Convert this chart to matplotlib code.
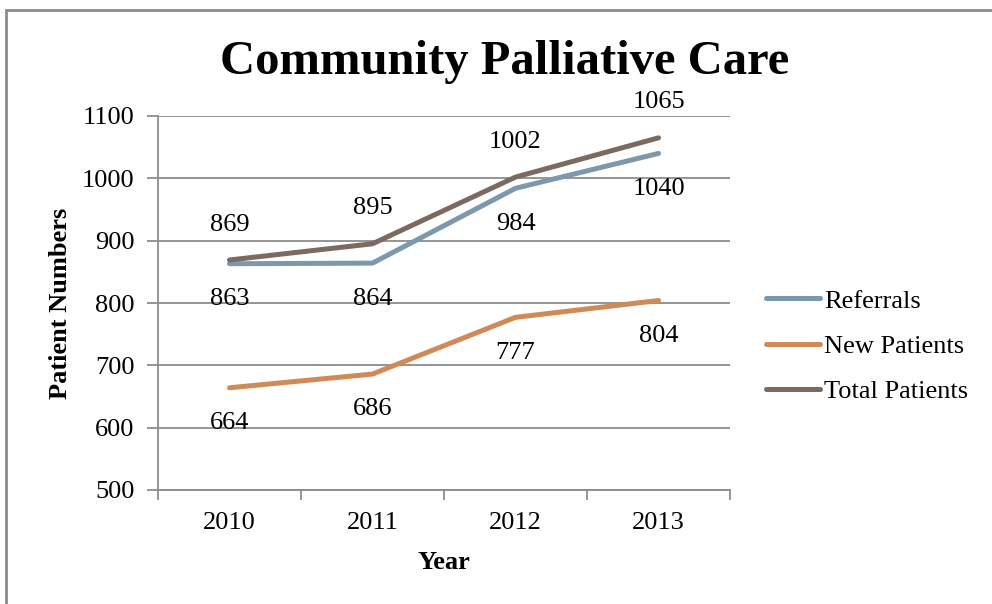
import numpy as np
import matplotlib.pyplot as plt
from matplotlib.patches import Rectangle

years = ["2010", "2011", "2012", "2013"]
referrals = [863, 864, 984, 1040]
new_patients = [664, 686, 777, 804]
total_patients = [869, 895, 1002, 1065]

series = [
    ("Referrals", referrals, "#7b98ae", -1),
    ("New Patients", new_patients, "#cf8a58", -1),
    ("Total Patients", total_patients, "#7a6a60", 1),
]

plt.rcParams['font.family'] = ['Liberation Serif', 'DejaVu Serif']
fs = 19

fig = plt.figure(figsize=(9.92, 6.04), dpi=100)
ax = fig.add_axes([158 / 992, 1 - 490 / 604, 572 / 992, 374 / 604])

# outer chart frame
fig.patches.append(Rectangle((6 / 992, -0.1), 1.2, (1 - 10 / 604) + 0.1,
                             transform=fig.transFigure, fill=False,
                             edgecolor="#8c8c8c", linewidth=2))

x = np.arange(len(years))
for name, vals, col, side in series:
    ax.plot(x, vals, color=col, linewidth=3.6, label=name,
            solid_capstyle="round", zorder=3)
    for xi, v in zip(x, vals):
        ax.annotate(str(v), (xi, v), xytext=(0, 25.5 * side),
                    textcoords="offset points", ha="center", va="center",
                    fontsize=fs, color="black")

ax.set_xlim(-0.5, 3.5)
ax.set_ylim(500, 1100)
ax.set_yticks(np.arange(500, 1101, 100))
ax.set_xticks(x)
ax.set_xticklabels(years)
ax.set_xticks(np.arange(-0.5, 3.6, 1), minor=True)
ax.tick_params(axis="x", which="major", length=0, pad=16, labelsize=fs)
ax.tick_params(axis="x", which="minor", length=7, width=1.3, color="#8c8c8c")
ax.tick_params(axis="y", length=8, width=1.3, color="#8c8c8c", pad=9, labelsize=fs)
ax.grid(axis="y", color="#8c8c8c", linewidth=1.3, zorder=0)
for s in ["top", "right"]:
    ax.spines[s].set_visible(False)
for s in ["left", "bottom"]:
    ax.spines[s].set_color("#8c8c8c")
    ax.spines[s].set_linewidth(1.3)

ax.set_xlabel("Year", fontsize=fs, fontweight="bold", labelpad=12)
ax.set_ylabel("Patient Numbers", fontsize=fs, fontweight="bold", labelpad=7)

fig.text(505 / 992, 1 - 62 / 604, "Community Palliative Care", ha="center",
         va="center", fontsize=35, fontweight="bold")

fig.legend(loc="center left", bbox_to_anchor=(766 / 992, 1 - 346 / 604),
           frameon=False, fontsize=fs, handlelength=2.05, handletextpad=0.15,
           labelspacing=0.82, borderpad=0, borderaxespad=0)

fig.savefig("out.png", dpi=100)
